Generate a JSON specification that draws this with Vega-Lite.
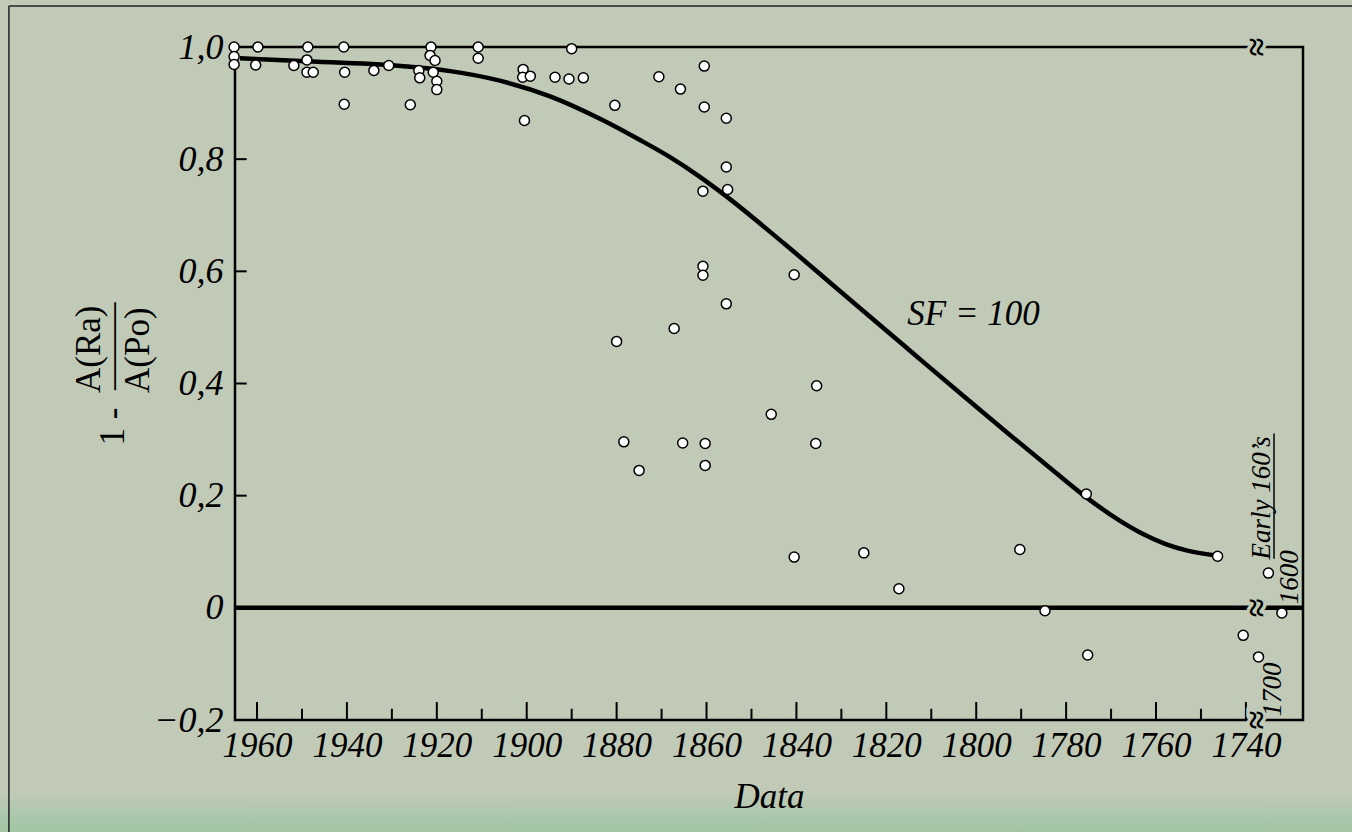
{
  "$schema": "https://vega.github.io/schema/vega-lite/v6.json",
  "width": 1068,
  "height": 673,
  "autosize": {"type": "none"},
  "padding": {"left": 235, "top": 47, "right": 49, "bottom": 112},
  "background": "#c1cab7",
  "view": {"stroke": "black", "strokeWidth": 2.5, "fill": null},
  "config": {"font": "Liberation Serif"},
  "datasets": {
    "points": [
      {"year": 1965.1, "r": 1.0}, {"year": 1965.1, "r": 0.983}, {"year": 1965.1, "r": 0.969},
      {"year": 1959.8, "r": 1.0}, {"year": 1960.3, "r": 0.968}, {"year": 1951.8, "r": 0.967},
      {"year": 1948.7, "r": 1.0}, {"year": 1948.9, "r": 0.977}, {"year": 1948.9, "r": 0.955},
      {"year": 1947.5, "r": 0.955}, {"year": 1940.7, "r": 1.0}, {"year": 1940.5, "r": 0.955},
      {"year": 1940.6, "r": 0.898}, {"year": 1934.0, "r": 0.958}, {"year": 1930.7, "r": 0.967},
      {"year": 1925.9, "r": 0.897}, {"year": 1924.0, "r": 0.958}, {"year": 1923.8, "r": 0.945},
      {"year": 1921.3, "r": 1.0}, {"year": 1921.5, "r": 0.985}, {"year": 1920.4, "r": 0.976},
      {"year": 1920.8, "r": 0.955}, {"year": 1920.0, "r": 0.939}, {"year": 1920.0, "r": 0.924},
      {"year": 1910.8, "r": 1.0}, {"year": 1910.8, "r": 0.98}, {"year": 1890.0, "r": 0.997},
      {"year": 1900.8, "r": 0.96}, {"year": 1900.9, "r": 0.946}, {"year": 1899.2, "r": 0.948},
      {"year": 1900.5, "r": 0.869}, {"year": 1893.7, "r": 0.946}, {"year": 1890.6, "r": 0.943},
      {"year": 1887.4, "r": 0.945}, {"year": 1880.4, "r": 0.896}, {"year": 1870.6, "r": 0.947},
      {"year": 1865.8, "r": 0.925}, {"year": 1860.5, "r": 0.966}, {"year": 1860.5, "r": 0.893},
      {"year": 1855.6, "r": 0.873}, {"year": 1855.6, "r": 0.786}, {"year": 1860.8, "r": 0.743},
      {"year": 1855.3, "r": 0.746}, {"year": 1860.8, "r": 0.609}, {"year": 1860.8, "r": 0.593},
      {"year": 1840.5, "r": 0.594}, {"year": 1855.6, "r": 0.542}, {"year": 1867.2, "r": 0.498},
      {"year": 1880.0, "r": 0.475}, {"year": 1878.4, "r": 0.296}, {"year": 1865.3, "r": 0.294},
      {"year": 1875.0, "r": 0.245}, {"year": 1835.5, "r": 0.396}, {"year": 1845.6, "r": 0.345},
      {"year": 1860.3, "r": 0.293}, {"year": 1860.3, "r": 0.254}, {"year": 1835.7, "r": 0.293},
      {"year": 1775.5, "r": 0.203}, {"year": 1840.5, "r": 0.0905}, {"year": 1825.0, "r": 0.098},
      {"year": 1790.3, "r": 0.104}, {"year": 1746.3, "r": 0.092}, {"year": 1735.0, "r": 0.062},
      {"year": 1817.2, "r": 0.034}, {"year": 1784.7, "r": -0.005}, {"year": 1775.2, "r": -0.084},
      {"year": 1732.0, "r": -0.009}, {"year": 1740.6, "r": -0.049}, {"year": 1737.2, "r": -0.0875}
    ],
    "curve": [
      {"year": 1963.8, "sf": 0.98}, {"year": 1950.4, "sf": 0.975}, {"year": 1928, "sf": 0.966},
      {"year": 1917, "sf": 0.957}, {"year": 1906, "sf": 0.94}, {"year": 1894.8, "sf": 0.912},
      {"year": 1883.7, "sf": 0.872}, {"year": 1875, "sf": 0.835}, {"year": 1868.2, "sf": 0.804},
      {"year": 1861.4, "sf": 0.768}, {"year": 1855.8, "sf": 0.735}, {"year": 1842.8, "sf": 0.65},
      {"year": 1830.8, "sf": 0.568}, {"year": 1818.9, "sf": 0.487}, {"year": 1812.9, "sf": 0.446},
      {"year": 1802.9, "sf": 0.378}, {"year": 1792.9, "sf": 0.311}, {"year": 1782.9, "sf": 0.245},
      {"year": 1775.5, "sf": 0.197}, {"year": 1768, "sf": 0.155}, {"year": 1763, "sf": 0.132},
      {"year": 1758, "sf": 0.114}, {"year": 1753, "sf": 0.102}, {"year": 1746.3, "sf": 0.093}
    ],
    "xmajor": [
      {"t": 1960}, {"t": 1940}, {"t": 1920}, {"t": 1900}, {"t": 1880}, {"t": 1860},
      {"t": 1840}, {"t": 1820}, {"t": 1800}, {"t": 1780}, {"t": 1760}, {"t": 1740}
    ],
    "xminor": [
      {"t": 1950}, {"t": 1930}, {"t": 1910}, {"t": 1890}, {"t": 1870}, {"t": 1850},
      {"t": 1830}, {"t": 1810}, {"t": 1790}, {"t": 1770}, {"t": 1750}
    ],
    "yticks": [{"v": 0.2}, {"v": 0.4}, {"v": 0.6}, {"v": 0.8}],
    "breaks": [{"v": 1.0}, {"v": 0}, {"v": -0.2}]
  },
  "layer": [
    {
      "data": {"name": "points"},
      "mark": {"type": "point", "opacity": 0},
      "encoding": {
        "x": {
          "field": "year", "type": "quantitative",
          "scale": {"domain": [1727.3, 1964.9], "reverse": true, "nice": false, "zero": false},
          "axis": {
            "values": [1960, 1940, 1920, 1900, 1880, 1860, 1840, 1820, 1800, 1780, 1760, 1740],
            "format": "d", "domain": false, "ticks": false, "grid": false, "zindex": 2,
            "labelFont": "Liberation Serif", "labelFontSize": 35, "labelFontStyle": "italic", "labelColor": "black",
            "labelPadding": 8, "labelFlush": false, "labelOverlap": false,
            "title": "Data", "titleFont": "Liberation Serif", "titleFontSize": 35, "titleFontStyle": "italic", "titleFontWeight": "normal", "titleColor": "black",
            "titleBaseline": "alphabetic", "titleY": 87
          }
        },
        "y": {
          "field": "r", "type": "quantitative",
          "scale": {"domain": [-0.2, 1.0], "nice": false, "zero": false},
          "axis": {
            "values": [-0.2, 0, 0.2, 0.4, 0.6, 0.8, 1.0],
            "labelExpr": "datum.value == 0 ? '0' : replace(format(datum.value, '.1f'), '.', ',')",
            "domain": false, "ticks": false, "grid": false, "zindex": 2,
            "labelFont": "Liberation Serif", "labelFontSize": 36, "labelFontStyle": "italic", "labelColor": "black",
            "labelPadding": 12, "labelFlush": false, "labelOverlap": false,
            "title": ["\u200b\u00a0\u00a0\u00a0\u00a0\u00a0\u00a0A(Ra)", "1\u00a0-\u00a0\u00a0\u2014\u2014\u2013", "\u200b\u00a0\u00a0\u00a0\u00a0\u00a0\u00a0A(Po)"],
            "titleFont": "Liberation Serif", "titleFontSize": 35, "titleFontStyle": "normal", "titleFontWeight": "normal", "titleColor": "black",
            "titleAngle": 270, "titleAlign": "left", "titleBaseline": "alphabetic", "titleLineHeight": 24.5,
            "titleX": -136, "titleY": 398
          }
        }
      }
    },
    {
      "data": {"values": [{}]},
      "mark": {"type": "rect", "clip": false, "fill": {"gradient": "linear", "x1": 0, "y1": 0, "x2": 0, "y2": 1, "stops": [{"offset": 0, "color": "#c1cab7"}, {"offset": 0.35, "color": "#b5c8b0"}, {"offset": 0.6, "color": "#a9c7aa"}, {"offset": 1, "color": "#a0c4a3"}]}},
      "encoding": {
        "x": {"datum": 2018, "type": "quantitative", "scale": {"domain": [1727.3, 1964.9], "reverse": true, "nice": false, "zero": false}},
        "x2": {"datum": 1715},
        "y": {"datum": -0.325, "type": "quantitative", "scale": {"domain": [-0.2, 1.0], "nice": false, "zero": false}},
        "y2": {"datum": -0.41}
      }
    },
    {
      "data": {"values": [{}]},
      "mark": {"type": "rule", "clip": false, "color": "#222222", "strokeWidth": 1.5},
      "encoding": {
        "x": {"datum": 2015.2, "type": "quantitative", "scale": {"domain": [1727.3, 1964.9], "reverse": true, "nice": false, "zero": false}},
        "y": {"datum": 1.0732, "type": "quantitative", "scale": {"domain": [-0.2, 1.0], "nice": false, "zero": false}},
        "y2": {"datum": -0.41}
      }
    },
    {
      "data": {"values": [{}]},
      "mark": {"type": "rule", "clip": false, "color": "#222222", "strokeWidth": 1.5},
      "encoding": {
        "x": {"datum": 2015.2, "type": "quantitative", "scale": {"domain": [1727.3, 1964.9], "reverse": true, "nice": false, "zero": false}},
        "x2": {"datum": 1715},
        "y": {"datum": 1.0732, "type": "quantitative", "scale": {"domain": [-0.2, 1.0], "nice": false, "zero": false}}
      }
    },
    {
      "data": {"values": [{}]},
      "mark": {"type": "rule", "color": "black", "strokeWidth": 4.5},
      "encoding": {
        "y": {"datum": 0, "type": "quantitative", "scale": {"domain": [-0.2, 1.0], "nice": false, "zero": false}}
      }
    },
    {
      "data": {"name": "xmajor"},
      "mark": {"type": "rule", "color": "black", "strokeWidth": 2},
      "encoding": {
        "x": {"field": "t", "type": "quantitative", "scale": {"domain": [1727.3, 1964.9], "reverse": true, "nice": false, "zero": false}},
        "y": {"datum": -0.2, "type": "quantitative", "scale": {"domain": [-0.2, 1.0], "nice": false, "zero": false}},
        "y2": {"datum": -0.168}
      }
    },
    {
      "data": {"name": "xminor"},
      "mark": {"type": "rule", "color": "black", "strokeWidth": 2},
      "encoding": {
        "x": {"field": "t", "type": "quantitative", "scale": {"domain": [1727.3, 1964.9], "reverse": true, "nice": false, "zero": false}},
        "y": {"datum": -0.2, "type": "quantitative", "scale": {"domain": [-0.2, 1.0], "nice": false, "zero": false}},
        "y2": {"datum": -0.18}
      }
    },
    {
      "data": {"name": "yticks"},
      "mark": {"type": "rule", "color": "black", "strokeWidth": 2},
      "encoding": {
        "x": {"datum": 1964.9, "type": "quantitative", "scale": {"domain": [1727.3, 1964.9], "reverse": true, "nice": false, "zero": false}},
        "x2": {"datum": 1962.3},
        "y": {"field": "v", "type": "quantitative", "scale": {"domain": [-0.2, 1.0], "nice": false, "zero": false}}
      }
    },
    {
      "data": {"name": "curve"},
      "mark": {"type": "line", "color": "black", "strokeWidth": 4.5, "interpolate": "monotone"},
      "encoding": {
        "x": {"field": "year", "type": "quantitative", "scale": {"domain": [1727.3, 1964.9], "reverse": true, "nice": false, "zero": false}},
        "y": {"field": "sf", "type": "quantitative", "scale": {"domain": [-0.2, 1.0], "nice": false, "zero": false}}
      }
    },
    {
      "data": {"name": "breaks"},
      "mark": {"type": "text", "text": "≈", "font": "Liberation Serif", "fontSize": 34, "fontWeight": "bold", "angle": 90, "align": "center", "baseline": "middle", "fill": "#c1cab7", "stroke": "#c1cab7", "strokeWidth": 7},
      "encoding": {
        "x": {"datum": 1738, "type": "quantitative", "scale": {"domain": [1727.3, 1964.9], "reverse": true, "nice": false, "zero": false}},
        "y": {"field": "v", "type": "quantitative", "scale": {"domain": [-0.2, 1.0], "nice": false, "zero": false}}
      }
    },
    {
      "data": {"name": "breaks"},
      "mark": {"type": "text", "text": "≈", "font": "Liberation Serif", "fontSize": 34, "fontWeight": "bold", "angle": 90, "align": "center", "baseline": "middle", "fill": "black"},
      "encoding": {
        "x": {"datum": 1738, "type": "quantitative", "scale": {"domain": [1727.3, 1964.9], "reverse": true, "nice": false, "zero": false}},
        "y": {"field": "v", "type": "quantitative", "scale": {"domain": [-0.2, 1.0], "nice": false, "zero": false}}
      }
    },
    {
      "data": {"values": [{}]},
      "mark": {"type": "text", "text": "SF = 100", "font": "Liberation Serif", "fontSize": 35, "fontStyle": "italic", "align": "center", "baseline": "alphabetic", "color": "black"},
      "encoding": {
        "x": {"datum": 1800.6, "type": "quantitative", "scale": {"domain": [1727.3, 1964.9], "reverse": true, "nice": false, "zero": false}},
        "y": {"datum": 0.505, "type": "quantitative", "scale": {"domain": [-0.2, 1.0], "nice": false, "zero": false}}
      }
    },
    {
      "data": {"values": [{}]},
      "mark": {"type": "text", "text": "1700", "font": "Liberation Serif", "fontSize": 27, "fontStyle": "italic", "angle": 270, "align": "center", "baseline": "middle", "color": "black"},
      "encoding": {
        "x": {"datum": 1734.0, "type": "quantitative", "scale": {"domain": [1727.3, 1964.9], "reverse": true, "nice": false, "zero": false}},
        "y": {"datum": -0.1455, "type": "quantitative", "scale": {"domain": [-0.2, 1.0], "nice": false, "zero": false}}
      }
    },
    {
      "data": {"values": [{}]},
      "mark": {"type": "text", "text": "1600", "font": "Liberation Serif", "fontSize": 27, "fontStyle": "italic", "angle": 270, "align": "center", "baseline": "middle", "color": "black"},
      "encoding": {
        "x": {"datum": 1730.2, "type": "quantitative", "scale": {"domain": [1727.3, 1964.9], "reverse": true, "nice": false, "zero": false}},
        "y": {"datum": 0.0545, "type": "quantitative", "scale": {"domain": [-0.2, 1.0], "nice": false, "zero": false}}
      }
    },
    {
      "data": {"values": [{}]},
      "mark": {"type": "text", "text": "Early 160’s", "font": "Liberation Serif", "fontSize": 27, "fontStyle": "italic", "angle": 270, "align": "center", "baseline": "middle", "color": "black"},
      "encoding": {
        "x": {"datum": 1736.4, "type": "quantitative", "scale": {"domain": [1727.3, 1964.9], "reverse": true, "nice": false, "zero": false}},
        "y": {"datum": 0.196, "type": "quantitative", "scale": {"domain": [-0.2, 1.0], "nice": false, "zero": false}}
      }
    },
    {
      "data": {"values": [{}]},
      "mark": {"type": "rule", "color": "black", "strokeWidth": 1.5},
      "encoding": {
        "x": {"datum": 1733.75, "type": "quantitative", "scale": {"domain": [1727.3, 1964.9], "reverse": true, "nice": false, "zero": false}},
        "y": {"datum": 0.311, "type": "quantitative", "scale": {"domain": [-0.2, 1.0], "nice": false, "zero": false}},
        "y2": {"datum": 0.0875}
      }
    },
    {
      "data": {"name": "points"},
      "mark": {"type": "point", "shape": "circle", "filled": true, "fill": "white", "stroke": "black", "strokeWidth": 1.5, "size": 100, "opacity": 1},
      "encoding": {
        "x": {"field": "year", "type": "quantitative", "scale": {"domain": [1727.3, 1964.9], "reverse": true, "nice": false, "zero": false}},
        "y": {"field": "r", "type": "quantitative", "scale": {"domain": [-0.2, 1.0], "nice": false, "zero": false}}
      }
    }
  ]
}
